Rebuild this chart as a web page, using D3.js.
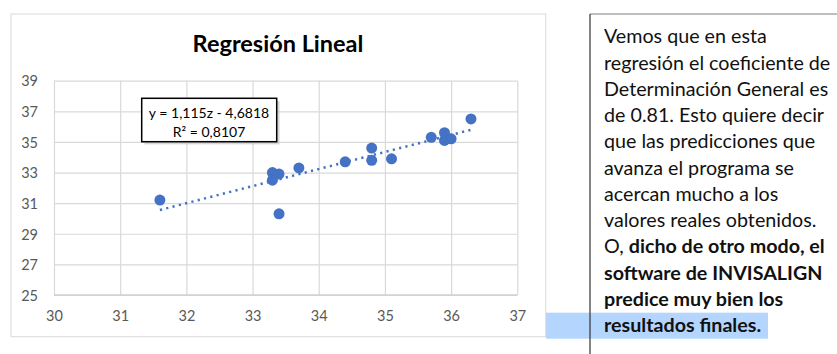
<!DOCTYPE html>
<html>
<head>
<meta charset="utf-8">
<script src="https://cdn.jsdelivr.net/npm/d3@7"></script>
<style>
  html, body { margin: 0; padding: 0; background: #fff; }
  svg { display: block; }
</style>
</head>
<body>
<svg id="chart" width="837" height="354"></svg>
<script>
// ---- data ----
const xValues = [31.6, 33.3, 33.4, 33.3, 33.4, 33.7, 34.4, 34.8, 34.8, 35.1, 35.7, 35.9, 35.9, 36.0, 36.3];
const yValues = [31.2, 33.0, 32.9, 32.5, 30.3, 33.3, 33.7, 34.6, 33.8, 33.9, 35.3, 35.6, 35.1, 35.2, 36.5];
const xTicks = [30, 31, 32, 33, 34, 35, 36, 37];
const yTicks = [25, 27, 29, 31, 33, 35, 37, 39];
const trendSlope = 1.115;
const trendIntercept = -4.6818;
const chartTitle = "Regresión Lineal";
const equationLines = ["y = 1,115z - 4,6818", "R² = 0,8107"];
const noteLines = [
  [{t: "Vemos que en esta", b: false}],
  [{t: "regresión el coeficiente de", b: false}],
  [{t: "Determinación General es", b: false}],
  [{t: "de 0.81. Esto quiere decir", b: false}],
  [{t: "que las predicciones que", b: false}],
  [{t: "avanza el programa se", b: false}],
  [{t: "acercan mucho a los", b: false}],
  [{t: "valores reales obtenidos.", b: false}],
  [{t: "O, ", b: false}, {t: "dicho de otro modo, el", b: true}],
  [{t: "software de INVISALIGN", b: true}],
  [{t: "predice muy bien los", b: true}],
  [{t: "resultados finales.", b: true}]
];

const points = xValues.map((x, i) => ({x, y: yValues[i]}));
const svg = d3.select("#chart");
const FONT = "Lato, 'Open Sans', sans-serif";

// highlight behind text (selection)
svg.append("rect").attr("x", 546).attr("y", 312.7).attr("width", 222).attr("height", 26)
  .attr("fill", "#b4d5fe");

// chart frame
svg.append("rect").attr("x", 11).attr("y", 14).attr("width", 534.7).attr("height", 322.7)
  .attr("fill", "#fff").attr("stroke", "#d9d9d9").attr("stroke-width", 1);

const plot = {left: 54, right: 517.3, top: 80.7, bottom: 295};
const x = d3.scaleLinear().domain([30, 37]).range([plot.left, plot.right]);
const y = d3.scaleLinear().domain([25, 39]).range([plot.bottom, plot.top]);

// gridlines
const gx = svg.append("g").attr("transform", `translate(0,${plot.bottom})`)
  .call(d3.axisBottom(x).tickValues(xTicks).tickSize(-(plot.bottom - plot.top)).tickFormat(""));
gx.select(".domain").remove();
gx.selectAll("line").attr("stroke", "#d9d9d9").attr("stroke-width", 1.2);

const gy = svg.append("g").attr("transform", `translate(${plot.left},0)`)
  .call(d3.axisLeft(y).tickValues(yTicks).tickSize(-(plot.right - plot.left)).tickFormat(""));
gy.select(".domain").remove();
gy.selectAll("line").attr("stroke", "#d9d9d9").attr("stroke-width", 1.2);

// bottom axis line
svg.append("line").attr("x1", plot.left).attr("x2", plot.right)
  .attr("y1", y(25)).attr("y2", y(25)).attr("stroke", "#cfcfcf").attr("stroke-width", 1.3);

// tick labels
const xl = svg.append("g").attr("transform", `translate(0,${plot.bottom + 26})`)
  .call(d3.axisBottom(x).tickValues(xTicks).tickSize(0).tickPadding(0).tickFormat(d3.format("d")));
xl.select(".domain").remove();
xl.selectAll("text").attr("font-family", FONT).attr("font-size", 14.5).attr("fill", "#595959")
  .attr("dy", "0");

const yl = svg.append("g").attr("transform", `translate(38,0)`)
  .call(d3.axisLeft(y).tickValues(yTicks).tickSize(0).tickPadding(0).tickFormat(d3.format("d")));
yl.select(".domain").remove();
yl.selectAll("text").attr("font-family", FONT).attr("font-size", 14.5).attr("fill", "#595959")
  .attr("dy", "0.36em");

// title
svg.append("text").attr("x", 278).attr("y", 51.5).attr("text-anchor", "middle")
  .attr("font-family", FONT).attr("font-weight", 700).attr("font-size", 23.5).attr("fill", "#000")
  .text(chartTitle);

// trendline
const xExt = d3.extent(xValues);
const trend = xExt.map(v => ({x: v, y: trendSlope * v + trendIntercept}));
svg.append("path").datum(trend)
  .attr("d", d3.line().x(d => x(d.x)).y(d => y(d.y)))
  .attr("fill", "none").attr("stroke", "#4472c4").attr("stroke-width", 2.5)
  .attr("stroke-dasharray", "2.2,4.3");

// points
svg.append("g").selectAll("circle").data(points).join("circle")
  .attr("cx", d => x(d.x)).attr("cy", d => y(d.y)).attr("r", 5.5)
  .attr("fill", "#4472c4");

// equation box
const eq = svg.append("g");
eq.append("rect").attr("x", 144.5).attr("y", 101).attr("width", 135).attr("height", 43.4)
  .attr("fill", "#bbb").attr("opacity", 0.6);
eq.append("rect").attr("x", 141.7).attr("y", 98.3).attr("width", 135).attr("height", 43.4)
  .attr("fill", "#fff").attr("stroke", "#000").attr("stroke-width", 1.5);
eq.selectAll("text.eq").data(equationLines).join("text").attr("class", "eq")
  .attr("x", 209).attr("y", (d, i) => 117.5 + i * 19).attr("text-anchor", "middle")
  .attr("font-family", FONT).attr("font-size", 14).attr("fill", "#000")
  .text(d => d);

// note text box
svg.append("line").attr("x1", 590).attr("x2", 837).attr("y1", 14).attr("y2", 14)
  .attr("stroke", "#7f7f7f").attr("stroke-width", 1.2);
svg.append("line").attr("x1", 590).attr("x2", 590).attr("y1", 14).attr("y2", 354)
  .attr("stroke", "#333").attr("stroke-width", 1.2);

const note = svg.append("g");
noteLines.forEach((segs, i) => {
  const t = note.append("text").attr("x", 604).attr("y", 43.3 + i * 26.25)
    .attr("font-family", FONT).attr("font-size", 19.7).attr("fill", "#111");
  segs.forEach(s => {
    t.append("tspan").attr("font-weight", s.b ? 700 : 400).text(s.t);
  });
});
</script>
</body>
</html>
